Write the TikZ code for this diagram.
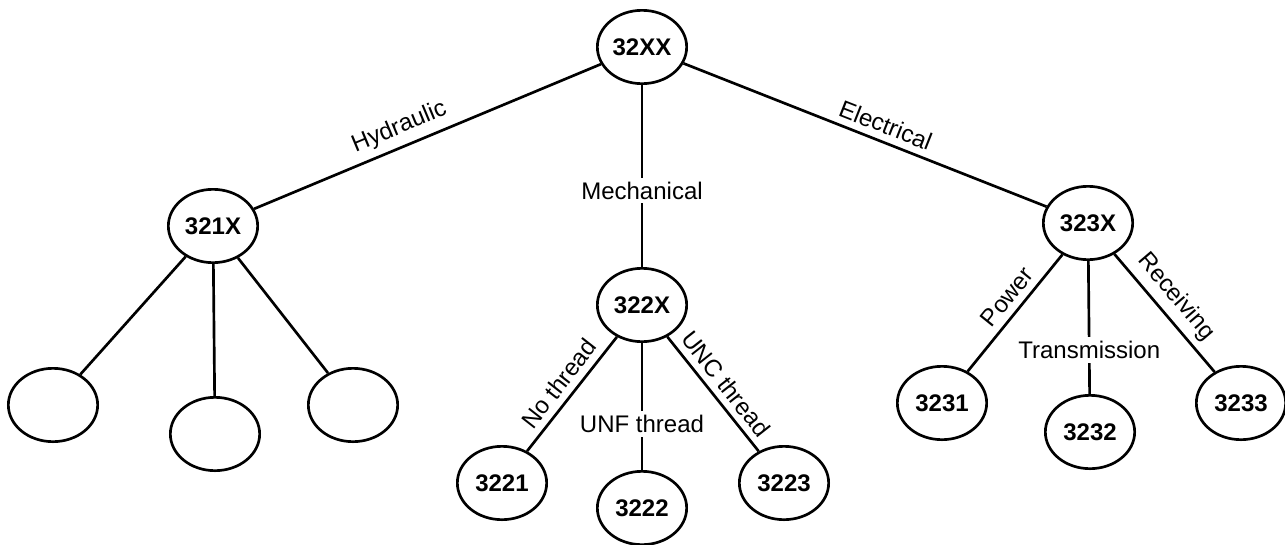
\documentclass[tikz,border=0pt]{standalone}
\usepackage{fontspec}
\setmainfont{Liberation Sans}
\usetikzlibrary{shapes.geometric}

\tikzset{every picture/.style={line width=2pt}}
\tikzset{
  codenode/.style={draw, ellipse, minimum width=67pt, minimum height=55pt, inner sep=0pt, font=\fontsize{18}{20}\selectfont\bfseries},
  branch/.style={font=\fontsize{18}{20}\selectfont, inner sep=5pt},
  gapbranch/.style={branch, fill=white, inner sep=3pt},
}

\begin{document}
\begin{tikzpicture}[x=0.75pt,y=0.75pt,yscale=-1,xscale=1]
\useasboundingbox (0,0) rectangle (1285,544);

%Shape: Ellipse [top]
\node [codenode] (n32XX) at (642,47) {32XX};
%Shape: Ellipse [second level]
\node [codenode] (n321X) at (213,226) {321X};
\node [codenode] (n322X) at (642,305) {322X};
\node [codenode] (n323X) at (1088,223) {323X};
%Shape: Ellipse [hydraulic, empty]
\node [codenode] (e1) at (53,405) {};
\node [codenode] (e2) at (215,434) {};
\node [codenode] (e3) at (353,405) {};
%Shape: Ellipse [mechanical]
\node [codenode] (n3221) at (502,483) {3221};
\node [codenode] (n3222) at (642,508) {3222};
\node [codenode] (n3223) at (784,483) {3223};
%Shape: Ellipse [electrical]
\node [codenode] (n3231) at (942,403) {3231};
\node [codenode] (n3232) at (1090,432) {3232};
\node [codenode] (n3233) at (1241,403) {3233};

%Straight Lines
\draw (n32XX) -- node [branch, rotate=22.6, above, pos=0.56] {Hydraulic} (n321X);
\draw (n32XX) -- node [gapbranch, pos=0.58] {Mechanical} (n322X);
\draw (n32XX) -- node [branch, rotate=-21.5, above, pos=0.54] {Electrical} (n323X);

%Straight Lines
\draw (n321X) -- (e1);
\draw (n321X) -- (e2);
\draw (n321X) -- (e3);

%Straight Lines
\draw (n322X) -- node [branch, rotate=52, above, pos=0.5] {No thread} (n3221);
\draw (n322X) -- node [gapbranch, pos=0.64] {UNF thread} (n3222);
\draw (n322X) -- node [branch, rotate=-51.7, above, pos=0.5] {UNC thread} (n3223);

%Straight Lines
\draw (n323X) -- node [branch, rotate=51, above, pos=0.45] {Power} (n3231);
\draw (n323X) -- node [gapbranch, pos=0.67] {Transmission} (n3232);
\draw (n323X) -- node [branch, rotate=-49.6, above, pos=0.47] {Receiving} (n3233);

\end{tikzpicture}
\end{document}
